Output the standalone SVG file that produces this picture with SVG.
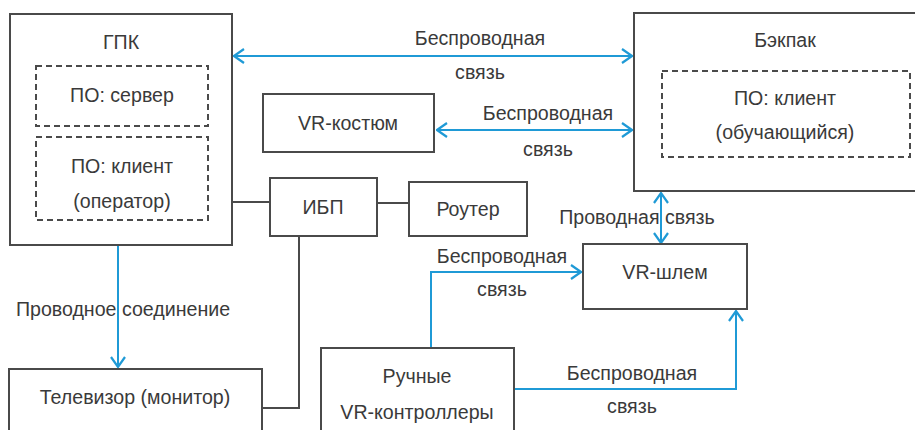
<svg xmlns="http://www.w3.org/2000/svg" width="915" height="430" viewBox="0 0 915 430">
<defs>
<style>
.box{fill:none;stroke:#4a4a4a;stroke-width:2}
.dash{fill:none;stroke:#4a4a4a;stroke-width:2;stroke-dasharray:6 4}
.t{font-family:"Liberation Sans",Arial,sans-serif;font-size:19.6px;fill:#3a3a3a;text-anchor:middle}
.blue{fill:none;stroke:#1f9ad6;stroke-width:2}
.gray{fill:none;stroke:#4a4a4a;stroke-width:2}
</style>
<marker id="ah" viewBox="0 0 12 16" refX="11" refY="8" markerWidth="12" markerHeight="16" markerUnits="userSpaceOnUse" orient="auto-start-reverse">
<path d="M1,1 L11,8 L1,15" fill="none" stroke="#1f9ad6" stroke-width="2.2"/>
</marker>
</defs>
<rect width="915" height="430" fill="#ffffff"/>
<g id="connectors">
<line class="blue" x1="234" y1="56" x2="632" y2="56" marker-start="url(#ah)" marker-end="url(#ah)"/>
<line class="blue" x1="437" y1="130" x2="632" y2="130" marker-start="url(#ah)" marker-end="url(#ah)"/>
<line class="blue" x1="661" y1="193" x2="661" y2="243" marker-start="url(#ah)" marker-end="url(#ah)"/>
<line class="blue" x1="118" y1="245" x2="118" y2="367" marker-end="url(#ah)"/>
<polyline class="blue" points="431,348 431,272 581,272" marker-end="url(#ah)"/>
<polyline class="blue" points="514,389 736,389 736,311" marker-end="url(#ah)"/>
<line class="gray" x1="232" y1="202" x2="270" y2="202"/>
<line class="gray" x1="377" y1="203" x2="409" y2="203"/>
<polyline class="gray" points="299,236 299,408 262,408"/>
</g>
<g id="gpk">
<rect class="box" x="10" y="14" width="222" height="231"/>
<text class="t" x="121" y="49">ГПК</text>
</g>
<g id="po-server">
<rect class="dash" x="36" y="66" width="172" height="60"/>
<text class="t" x="122" y="102">ПО: сервер</text>
</g>
<g id="po-client-operator">
<rect class="dash" x="36" y="137" width="172" height="83"/>
<text class="t" x="122" y="173">ПО: клиент</text>
<text class="t" x="122" y="208">(оператор)</text>
</g>
<g id="vr-suit">
<rect class="box" x="263" y="94" width="171" height="58"/>
<text class="t" x="348" y="130">VR-костюм</text>
</g>
<g id="backpack">
<rect class="box" x="634" y="13" width="290" height="178"/>
<text class="t" x="785" y="47">Бэкпак</text>
</g>
<g id="po-client-student">
<rect class="dash" x="662" y="71" width="248" height="86"/>
<text class="t" x="785" y="105">ПО: клиент</text>
<text class="t" x="785" y="139">(обучающийся)</text>
</g>
<g id="ups">
<rect class="box" x="270" y="178" width="107" height="58"/>
<text class="t" x="323" y="214">ИБП</text>
</g>
<g id="router">
<rect class="box" x="409" y="182" width="118" height="54"/>
<text class="t" x="468" y="216">Роутер</text>
</g>
<g id="vr-helmet">
<rect class="box" x="583" y="244" width="164" height="65"/>
<text class="t" x="665" y="279">VR-шлем</text>
</g>
<g id="tv">
<rect class="box" x="9" y="369" width="253" height="80"/>
<text class="t" x="135" y="404">Телевизор (монитор)</text>
</g>
<g id="controllers">
<rect class="box" x="321" y="348" width="193" height="100"/>
<text class="t" x="417" y="383">Ручные</text>
<text class="t" x="417" y="419">VR-контроллеры</text>
</g>
<g id="labels">
<text class="t" x="480" y="45">Беспроводная</text>
<text class="t" x="480" y="79">связь</text>
<text class="t" x="548" y="120">Беспроводная</text>
<text class="t" x="548" y="156">связь</text>
<text class="t" x="637" y="224">Проводная связь</text>
<text class="t" x="502" y="263">Беспроводная</text>
<text class="t" x="502" y="296">связь</text>
<text class="t" x="123" y="316">Проводное соединение</text>
<text class="t" x="632" y="380">Беспроводная</text>
<text class="t" x="632" y="413">связь</text>
</g>
</svg>
